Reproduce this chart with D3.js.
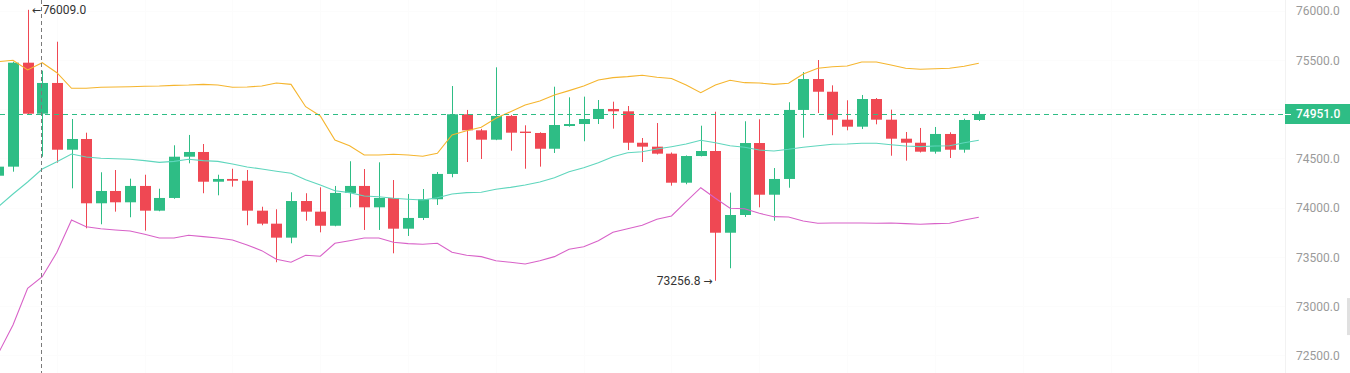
<!DOCTYPE html>
<html>
<head>
<meta charset="utf-8">
<script src="https://cdn.jsdelivr.net/npm/d3@7/dist/d3.min.js"></script>
<style>
  html, body { margin: 0; padding: 0; background: #fff; }
  svg { display: block; font-family: Roboto, "Open Sans", sans-serif; }
</style>
</head>
<body>
<div id="chart"></div>
<script>
/*
** Data
*/
var opens = [
    74324, 74416, 75472, 74954, 75266, 74588, 74697, 74044, 74169, 74054
  , 74220, 73969, 74098, 74517, 74565, 74263, 74291, 74273, 73969, 73837
  , 73695, 74067, 73959, 73816, 74149, 74220, 74003, 74098, 73786, 73895
  , 74085, 74342, 74948, 74785, 74690, 74931, 74772, 74758, 74598, 74829
  , 74849, 74900, 75002, 74978, 74659, 74619, 74548, 74253, 74524, 74575
  , 73745, 73925, 74656, 74131, 74291, 74992, 75306, 75177, 74893, 74822
  , 75103, 74893, 74700, 74659, 74568, 74748, 74588, 74890
];
var highs = [
    74440, 75482, 76009, 75391, 75685, 74900, 74761, 74359, 74382, 74294
  , 74334, 74192, 74633, 74738, 74646, 74334, 74395, 74382, 74009, 73983
  , 74156, 74146, 74206, 74220, 74471, 74392, 74460, 74280, 74138, 74189
  , 74362, 75235, 74992, 74800, 75425, 74940, 74836, 74765, 75228, 75120
  , 75127, 75093, 75076, 75032, 74707, 74859, 74560, 74530, 74832, 74974
  , 74152, 74877, 74897, 74402, 75070, 75377, 75499, 75242, 75090, 75144
  , 75113, 74995, 74768, 74809, 74819, 74765, 74903, 74978
];
var lows = [
    74300, 74365, 74950, 74517, 74456, 74196, 73790, 73831, 73959, 73902
  , 73766, 73963, 74090, 74450, 74146, 74125, 74213, 73821, 73821, 73445
  , 73638, 73867, 73749, 73810, 74003, 73773, 73773, 73536, 73712, 73874
  , 74027, 74308, 74463, 74494, 74685, 74578, 74395, 74416, 74555, 74822
  , 74674, 74849, 74802, 74585, 74463, 74540, 74223, 74237, 74520, 73256.8
  , 73384, 73905, 74003, 73867, 74202, 74710, 74961, 74735, 74785, 74798
  , 74846, 74527, 74477, 74560, 74548, 74504, 74558, 74880
];
var closes = [
    74416, 75472, 74954, 75266, 74588, 74697, 74044, 74169, 74054, 74220
  , 73969, 74098, 74517, 74565, 74263, 74291, 74273, 73969, 73837, 73695
  , 74067, 73959, 73816, 74149, 74220, 74003, 74098, 73786, 73895, 74085
  , 74342, 74948, 74785, 74690, 74931, 74761, 74758, 74598, 74839, 74849
  , 74900, 75002, 74978, 74659, 74619, 74548, 74253, 74524, 74575, 73745
  , 73925, 74656, 74131, 74291, 74992, 75306, 75177, 74893, 74822, 75103
  , 74893, 74700, 74659, 74568, 74748, 74588, 74890, 74951
];
// bollinger bands
var upperBand = [
    75482, 75496, 75398, 75472, 75370, 75212, 75212, 75222, 75225, 75228
  , 75232, 75235, 75242, 75245, 75252, 75245, 75222, 75225, 75235, 75266
  , 75252, 75025, 74931, 74687, 74629, 74534, 74534, 74542, 74534, 74521
  , 74552, 74738, 74781, 74816, 74907, 74974, 75042, 75083, 75144, 75188
  , 75235, 75296, 75320, 75330, 75344, 75324, 75311, 75245, 75167, 75245
  , 75293, 75269, 75266, 75252, 75263, 75357, 75415, 75431, 75438, 75479
  , 75479, 75448, 75415, 75405, 75411, 75415, 75435, 75466
];
var middleBand = [
    74009, 74138, 74260, 74392, 74466, 74545, 74514, 74501, 74497, 74491
  , 74477, 74460, 74470, 74491, 74477, 74470, 74443, 74413, 74392, 74369
  , 74349, 74284, 74230, 74172, 74152, 74118, 74111, 74095, 74085, 74077
  , 74101, 74138, 74152, 74156, 74186, 74206, 74230, 74260, 74304, 74365
  , 74405, 74456, 74517, 74558, 74568, 74595, 74619, 74646, 74684, 74659
  , 74629, 74613, 74585, 74575, 74592, 74613, 74629, 74643, 74646, 74653
  , 74653, 74639, 74626, 74619, 74626, 74629, 74659, 74684
];
var lowerBand = [
    72520, 72808, 73181, 73298, 73546, 73874, 73806, 73786, 73773, 73763
  , 73729, 73691, 73691, 73719, 73705, 73691, 73671, 73620, 73563, 73475
  , 73445, 73516, 73506, 73638, 73664, 73691, 73691, 73648, 73634, 73628
  , 73638, 73546, 73516, 73502, 73461, 73445, 73427, 73461, 73502, 73577
  , 73603, 73664, 73749, 73786, 73820, 73881, 73915, 74060, 74202, 74095
  , 73993, 73989, 73942, 73908, 73905, 73864, 73841, 73844, 73844, 73844
  , 73841, 73844, 73837, 73831, 73837, 73841, 73874, 73902
];
var priceTicks = [72500, 73000, 73500, 74000, 74500, 75000, 75500, 76000];
var lastPrice = 74951.0;
var crosshairIndex = 3;

/*
** Setup
*/
var width = 1350
  , height = 373
  , axisLeft = 1285
  , candleWidth = 11
  , colors = {
        up: "#2ebd85"
      , down: "#ef4853"
      , upper: "#f5b52e"
      , middle: "#5fd6bd"
      , lower: "#d862c8"
      , grid: "#fcfcfc"
      , axisText: "#9a9a9a"
    }
  , fmt = d3.format(".1f")
;

var candles = opens.map(function(o, i) {
    return { i: i, open: o, high: highs[i], low: lows[i], close: closes[i] };
});

var x = d3.scaleLinear()
    .domain([0, candles.length - 1])
    .range([-1.64, 978.8])
;
var y = d3.scaleLinear()
    .domain([72500, 76000])
    .range([355.3, 10.7])
;

var svg = d3.select("#chart").append("svg")
    .attr("width", width)
    .attr("height", height)
;

/*
** Grid (barely there)
*/
var grid = svg.append("g").attr("class", "grid");
grid.selectAll(".hgrid")
    .data(priceTicks)
  .enter().append("line")
    .attr("x1", 0).attr("x2", axisLeft)
    .attr("y1", function(d) { return Math.round(y(d)) + 0.5; })
    .attr("y2", function(d) { return Math.round(y(d)) + 0.5; })
    .attr("stroke", colors.grid)
;
grid.selectAll(".vgrid")
    .data(d3.range(4, 88, 6))
  .enter().append("line")
    .attr("x1", function(d) { return Math.round(x(d)) + 0.5; })
    .attr("x2", function(d) { return Math.round(x(d)) + 0.5; })
    .attr("y1", 0).attr("y2", height)
    .attr("stroke", colors.grid)
;

/*
** Candles
*/
var candle = svg.append("g")
    .attr("class", "candles")
  .selectAll("g")
    .data(candles)
  .enter().append("g")
;
candle.append("line")
    .attr("x1", function(d) { return Math.round(x(d.i)) + 0.5; })
    .attr("x2", function(d) { return Math.round(x(d.i)) + 0.5; })
    .attr("y1", function(d) { return y(d.high); })
    .attr("y2", function(d) { return y(d.low); })
    .attr("stroke", function(d) { return d.close >= d.open ? colors.up : colors.down; })
;
candle.append("rect")
    .attr("x", function(d) { return Math.round(x(d.i)) + 0.5 - candleWidth / 2; })
    .attr("width", candleWidth)
    .attr("y", function(d) { return y(Math.max(d.open, d.close)); })
    .attr("height", function(d) { return Math.max(1, Math.abs(y(d.open) - y(d.close))); })
    .attr("fill", function(d) { return d.close >= d.open ? colors.up : colors.down; })
;

/*
** Bollinger bands
*/
var line = d3.line()
    .x(function(d, i) { return x(i); })
    .y(function(d) { return y(d); })
;
[[upperBand, colors.upper], [middleBand, colors.middle], [lowerBand, colors.lower]]
  .forEach(function(b) {
      svg.append("path")
          .attr("d", line(b[0]))
          .attr("fill", "none")
          .attr("stroke", b[1])
          .attr("stroke-width", 1.1)
      ;
  })
;

/*
** Last price line + crosshair
*/
svg.append("line")
    .attr("x1", 0).attr("x2", axisLeft)
    .attr("y1", Math.round(y(lastPrice)) + 0.5)
    .attr("y2", Math.round(y(lastPrice)) + 0.5)
    .attr("stroke", colors.up)
    .attr("stroke-dasharray", "5,4")
;
svg.append("line")
    .attr("x1", Math.round(x(crosshairIndex)) - 0.5)
    .attr("x2", Math.round(x(crosshairIndex)) - 0.5)
    .attr("y1", 0).attr("y2", height)
    .attr("stroke", "#7a7a7a")
    .attr("stroke-dasharray", "4,3")
;

/*
** High / low markers
*/
var hi = d3.maxIndex(highs)
  , lo = d3.minIndex(lows)
  , marks = svg.append("g")
      .attr("font-size", 12)
      .attr("fill", "#333")
;
marks.append("text")
    .attr("x", x(hi) + 4)
    .attr("y", y(highs[hi]) + 4)
    .attr("font-family", "DejaVu Sans")
    .attr("font-size", 11)
    .text("\u2190")
;
marks.append("text")
    .attr("x", x(hi) + 15)
    .attr("y", y(highs[hi]) + 4)
    .text(fmt(highs[hi]))
;
marks.append("text")
    .attr("x", x(lo) - 3)
    .attr("y", y(lows[lo]) + 4)
    .attr("text-anchor", "end")
    .attr("font-family", "DejaVu Sans")
    .attr("font-size", 11)
    .text("\u2192")
;
marks.append("text")
    .attr("x", x(lo) - 15)
    .attr("y", y(lows[lo]) + 4)
    .attr("text-anchor", "end")
    .text(fmt(lows[lo]))
;

/*
** Price axis
*/
svg.append("line")
    .attr("x1", axisLeft + 0.5).attr("x2", axisLeft + 0.5)
    .attr("y1", 0).attr("y2", height)
    .attr("stroke", "#f2f2f2")
;
var axis = svg.append("g")
    .attr("class", "axis")
    .attr("transform", "translate(" + (axisLeft + 11) + ",0)")
    .call(d3.axisRight(y).tickValues(priceTicks).tickFormat(fmt).tickSize(0).tickPadding(0))
;
axis.select(".domain").remove();
axis.selectAll("text")
    .attr("font-size", 12)
    .attr("font-family", "Roboto, sans-serif")
    .attr("fill", colors.axisText)
    .attr("dy", "0.35em")
;
// the last price tag covers the nearby label
axis.selectAll(".tick")
    .filter(function(d) { return Math.abs(y(d) - y(lastPrice)) < 12; })
    .remove()
;

var tag = svg.append("g")
    .attr("transform", "translate(0," + Math.round(y(lastPrice)) + ")")
;
tag.append("rect")
    .attr("x", axisLeft)
    .attr("y", -10)
    .attr("width", width - axisLeft)
    .attr("height", 20)
    .attr("fill", colors.up)
;
tag.append("line")
    .attr("x1", axisLeft - 2).attr("x2", axisLeft + 6)
    .attr("y1", 0.5).attr("y2", 0.5)
    .attr("stroke", "#fff")
;
tag.append("text")
    .attr("x", axisLeft + 11)
    .attr("y", 0)
    .attr("dy", "0.35em")
    .attr("font-size", 12)
    .attr("font-weight", 500)
    .attr("fill", "#fff")
    .text(fmt(lastPrice))
;

// scroll handle at the right edge
svg.append("rect")
    .attr("x", width - 3)
    .attr("y", y(73000) - 8)
    .attr("width", 3)
    .attr("height", 37)
    .attr("fill", "#e0e0e0")
;
</script>
</body>
</html>
